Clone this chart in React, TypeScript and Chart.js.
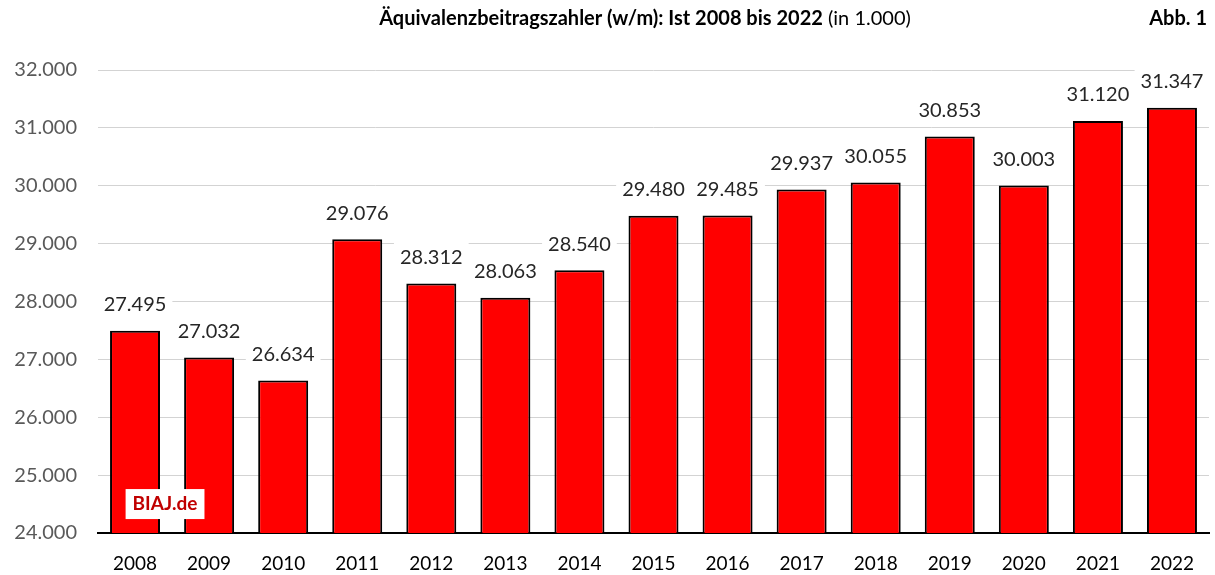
import React, { useEffect, useRef } from "react";
import { Chart, registerables } from "chart.js";

Chart.register(...registerables);

const years = ["2008","2009","2010","2011","2012","2013","2014","2015","2016","2017","2018","2019","2020","2021","2022"];
const values = [27495, 27032, 26634, 29076, 28312, 28063, 28540, 29480, 29485, 29937, 30055, 30853, 30003, 31120, 31347];
const titleBold = "Äquivalenzbeitragszahler (w/m): Ist 2008 bis 2022";
const titleNormal = " (in 1.000)";
const figLabel = "Abb. 1";
const sourceLabel = "BIAJ.de";

const FONT = "Lato, 'Open Sans', sans-serif";
const fmt = (v: number) => v.toLocaleString("de-DE");

const labelPlugin = {
  id: "labels",
  afterDatasetsDraw(chart: any) {
    const ctx = chart.ctx;
    const meta = chart.getDatasetMeta(0);
    ctx.save();
    ctx.font = `20px ${FONT}`;
    ctx.textAlign = "center";
    ctx.textBaseline = "middle";
    meta.data.forEach((bar: any, i: number) => {
      const t = fmt(values[i]);
      const w = ctx.measureText(t).width;
      const cy = bar.y - 26;
      ctx.fillStyle = "#ffffff";
      ctx.fillRect(bar.x - w / 2 - 6, cy - 15, w + 12, 30);
      ctx.fillStyle = "#262626";
      ctx.fillText(t, bar.x, cy);
    });
    // source label
    const x0 = meta.data[0].x;
    ctx.font = `bold 19px ${FONT}`;
    const sw = ctx.measureText(sourceLabel).width;
    const by = chart.scales.y.getPixelForValue(24500);
    ctx.fillStyle = "#ffffff";
    ctx.fillRect(x0 + 30 - sw / 2 - 7, by - 15, sw + 14, 30);
    ctx.fillStyle = "#c00000";
    ctx.fillText(sourceLabel, x0 + 30, by);
    // title
    ctx.font = `bold 20px ${FONT}`;
    ctx.textAlign = "left";
    ctx.fillStyle = "#000000";
    const tw = ctx.measureText(titleBold).width;
    ctx.font = `20px ${FONT}`;
    const nw = ctx.measureText(titleNormal).width;
    const startX = 645 - (tw + nw) / 2;
    ctx.font = `bold 20px ${FONT}`;
    ctx.fillText(titleBold, startX, 19);
    ctx.font = `20px ${FONT}`;
    ctx.fillText(titleNormal, startX + tw, 19);
    ctx.font = `bold 20px ${FONT}`;
    ctx.textAlign = "right";
    ctx.fillText(figLabel, 1207, 19);
    ctx.restore();
  },
};

export default function App() {
  const ref = useRef<HTMLCanvasElement>(null);
  useEffect(() => {
    document.body.style.margin = "0";
    const chart = new Chart(ref.current!, {
      type: "bar",
      data: {
        labels: years,
        datasets: [
          {
            data: values,
            backgroundColor: "#ff0000",
            borderColor: "#000000",
            borderWidth: 2,
            borderSkipped: "bottom",
            categoryPercentage: 1,
            barPercentage: 0.675,
          },
        ],
      },
      options: {
        animation: false,
        responsive: false,
        layout: { padding: { left: 0, right: 6, top: 70, bottom: 0 } },
        plugins: { legend: { display: false }, tooltip: { enabled: false } },
        scales: {
          x: {
            grid: { display: false, drawTicks: false },
            border: { color: "#000000", width: 2 },
            ticks: { font: { family: FONT, size: 19 }, color: "#000000", padding: 19 },
            afterFit: (s: any) => { s.height = 42; },
          },
          y: {
            min: 24000,
            max: 32000,
            grid: { color: "#d3d3d3", lineWidth: 1, drawTicks: false },
            border: { display: false },
            ticks: {
              stepSize: 1000,
              font: { family: FONT, size: 20 },
              color: "#595959",
              padding: 21,
              callback: (v: any) => fmt(Number(v)),
            },
            afterFit: (s: any) => { s.width = 98; },
          },
        },
      },
      plugins: [labelPlugin],
    });
    return () => chart.destroy();
  }, []);
  return (
    <div style={{ width: 1215, height: 575 }}>
      <canvas ref={ref} width={1215} height={575} />
    </div>
  );
}
